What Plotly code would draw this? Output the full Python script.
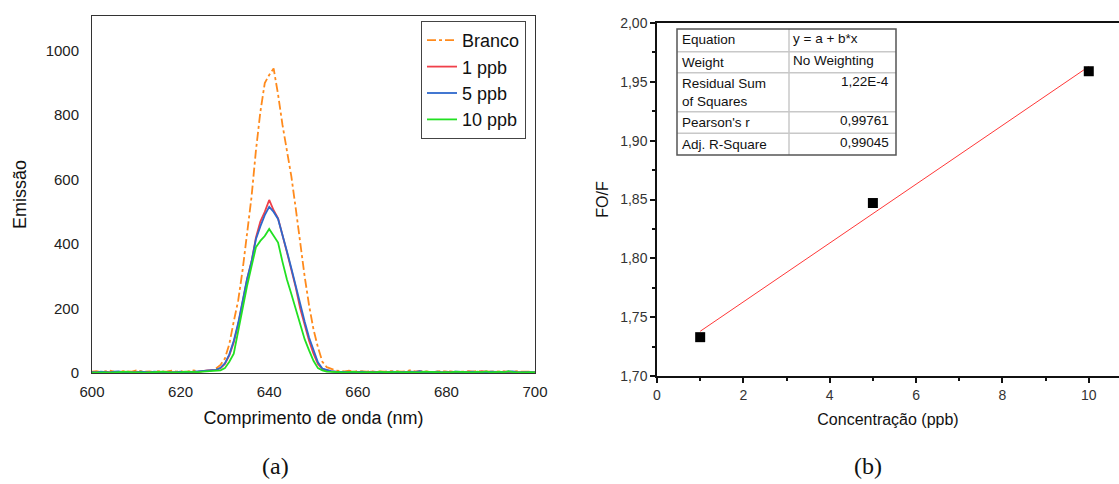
import plotly.graph_objects as go
import numpy as np

# ---------------- data: panel (a) ----------------
wavelength = list(range(600, 701))
branco = [4, 6, 3, 5, 7, 4, 3, 6, 5, 4, 8, 6, 4, 5, 3, 6, 4, 5, 7, 4,
          6, 3, 5, 8, 4, 6, 7, 8, 14, 25, 45, 90, 160, 225, 320, 430, 545, 690, 810, 900,
          925, 945, 865, 770, 690, 610, 510, 400, 300, 210, 135, 80, 35, 18, 12, 8, 6, 5, 7, 4,
          6, 5, 4, 6, 3, 5, 4, 6, 5, 3, 4, 6, 9, 4, 5, 6, 4, 3, 5, 6,
          4, 5, 3, 4, 6, 5, 4, 7, 3, 5, 4, 6, 4, 5, 3, 4, 6, 4, 5, 4, 3]
ppb1 = [2, 3, 1, 4, 2, 3, 2, 1, 3, 2, 4, 3, 2, 1, 3, 2, 4, 2, 3, 2,
        1, 3, 4, 2, 5, 6, 8, 8, 10, 15, 28, 55, 95, 150, 225, 290, 345, 420, 470, 500,
        537, 505, 480, 430, 375, 320, 265, 200, 150, 100, 60, 28, 12, 8, 5, 4, 3, 2, 4, 3,
        2, 3, 2, 4, 3, 2, 3, 2, 3, 4, 2, 3, 2, 3, 5, 2, 3, 2, 3, 2,
        4, 3, 2, 3, 2, 5, 3, 2, 6, 3, 2, 3, 2, 4, 3, 2, 3, 2, 3, 2, 2]
ppb5 = [3, 2, 4, 3, 2, 4, 5, 3, 2, 3, 2, 4, 3, 2, 4, 3, 2, 3, 2, 3,
        4, 2, 3, 4, 6, 8, 9, 8, 10, 16, 30, 58, 100, 155, 228, 292, 345, 415, 455, 490,
        516, 500, 478, 432, 378, 325, 270, 210, 160, 110, 68, 33, 14, 9, 6, 4, 3, 4, 3, 2,
        3, 4, 2, 3, 4, 3, 2, 3, 4, 2, 3, 2, 4, 3, 6, 3, 2, 3, 4, 2,
        3, 2, 4, 3, 2, 3, 4, 2, 3, 2, 4, 3, 2, 3, 4, 5, 2, 3, 2, 3, 2]
ppb10 = [1, 2, 3, 2, 1, 2, 3, 2, 4, 2, 3, 2, 1, 2, 3, 2, 4, 3, 2, 3,
         2, 4, 3, 2, 3, 4, 5, 4, 6, 8, 15, 35, 60, 130, 205, 270, 330, 390, 410, 425,
         447, 425, 405, 345, 290, 245, 200, 150, 105, 70, 38, 15, 8, 4, 3, 2, 3, 2, 3, 4,
         2, 3, 2, 3, 2, 4, 3, 2, 3, 4, 2, 3, 2, 3, 2, 4, 3, 2, 3, 2,
         3, 2, 4, 3, 2, 3, 2, 4, 3, 5, 2, 3, 4, 2, 6, 3, 2, 3, 2, 3, 2]

series_names = ["Branco", "1 ppb", "5 ppb", "10 ppb"]
series_colors = ["#FF8A1C", "#F0404A", "#2E68CC", "#22E022"]
series_dash = ["dashdot", "solid", "solid", "solid"]

xa_ticks = [600, 620, 640, 660, 680, 700]
ya_ticks = [0, 200, 400, 600, 800, 1000]

# ---------------- data: panel (b) ----------------
conc = [1, 5, 10]
fof = [1.733, 1.847, 1.959]
xb_ticks = [0, 2, 4, 6, 8, 10]
xb_labels = ["0", "2", "4", "6", "8", "10"]
yb_ticks = [1.70, 1.75, 1.80, 1.85, 1.90, 1.95, 2.00]
yb_labels = ["1,70", "1,75", "1,80", "1,85", "1,90", "1,95", "2,00"]

table_rows = [
    ("Equation", "y = a + b*x", "left"),
    ("Weight", "No Weighting", "left"),
    ("Residual Sum<br>of Squares", "1,22E-4", "right"),
    ("Pearson's r", "0,99761", "right"),
    ("Adj. R-Square", "0,99045", "right"),
]

W, H = 1119, 484
def px(x):
    return x / W
def py(y):
    return 1 - y / H

fig = go.Figure()

for name, vals, col, dash in zip(series_names, [branco, ppb1, ppb5, ppb10], series_colors, series_dash):
    fig.add_trace(go.Scatter(
        x=wavelength, y=vals, mode="lines", name=name,
        line=dict(color=col, width=1.8, dash=dash),
        xaxis="x", yaxis="y", showlegend=True))

# linear fit
b, a = np.polyfit(conc, fof, 1)
fit_x = [conc[0], conc[-1]]
fit_y = [a + b * v for v in fit_x]
fig.add_trace(go.Scatter(x=fit_x, y=fit_y, mode="lines", line=dict(color="#FF3838", width=1),
                         xaxis="x2", yaxis="y2", showlegend=False))
fig.add_trace(go.Scatter(x=conc, y=fof, mode="markers",
                         marker=dict(symbol="square", size=10, color="black"),
                         xaxis="x2", yaxis="y2", showlegend=False))

font_main = "Liberation Sans, Arial, sans-serif"

fig.update_layout(
    width=W, height=H, margin=dict(l=0, r=0, t=0, b=0),
    paper_bgcolor="white", plot_bgcolor="white",
    font=dict(family=font_main, color="#222222"),
    xaxis=dict(domain=[px(92), px(535)], range=[600, 700], tickvals=xa_ticks, automargin=False,
               showgrid=False, zeroline=False, showline=True, mirror=True,
               linecolor="#333333", linewidth=1, ticks="", ticklabelstandoff=5,
               tickfont=dict(size=15, color="#222222"),
               title=dict(text="Comprimento de onda (nm)", font=dict(size=18, color="#111111"), standoff=12)),
    yaxis=dict(domain=[py(373), py(16)], range=[0, 1108], tickvals=ya_ticks, automargin=False,
               showgrid=False, zeroline=False, showline=True, mirror=True,
               linecolor="#333333", linewidth=1, ticks="", ticklabelstandoff=9,
               tickfont=dict(size=15, color="#222222"),
               title=dict(text="Emissão", font=dict(size=18, color="#111111"), standoff=14)),
    xaxis2=dict(domain=[px(657), 1.0], range=[0, 10.7], anchor="y2", automargin=False,
                tickmode="array", tickvals=xb_ticks, ticktext=xb_labels,
                showgrid=False, zeroline=False, showline=True, mirror=True,
                linecolor="#111111", linewidth=1.5, ticks="outside", ticklen=5, tickwidth=1.5,
                tickcolor="#111111",
                minor=dict(tickvals=[1, 3, 5, 7, 9], ticklen=3, tickwidth=1.5, tickcolor="#111111", ticks="outside"),
                tickfont=dict(size=14, color="#333333"),
                title=dict(text="Concentração (ppb)", font=dict(size=16, color="#111111"), standoff=12)),
    yaxis2=dict(domain=[py(376), py(23)], range=[1.70, 2.00], anchor="x2", automargin=False,
                tickmode="array", tickvals=yb_ticks, ticktext=yb_labels,
                showgrid=False, zeroline=False, showline=True, mirror=False,
                linecolor="#111111", linewidth=1.5, ticks="outside", ticklen=5, tickwidth=1.5,
                tickcolor="#111111",
                minor=dict(tickvals=[1.725, 1.775, 1.825, 1.875, 1.925, 1.975], ticklen=3, tickwidth=1.5,
                           tickcolor="#111111", ticks="outside"),
                tickfont=dict(size=14, color="#333333"),
                title=dict(text="FO/F", font=dict(size=16, color="#111111"), standoff=8)),
    legend=dict(x=px(526), xanchor="right", y=py(21), yanchor="top",
                bgcolor="white", bordercolor="#444444", borderwidth=1,
                font=dict(size=18, color="#111111"), tracegroupgap=0,
                itemwidth=30),
)

# table in panel (b)
row_lines = [29, 51.7, 72.7, 111.7, 133.3, 155]
tx0, tx1, tmid = 677, 896, 789
shapes = []
for yy in row_lines[1:-1]:
    shapes.append(dict(type="line", xref="paper", yref="paper", x0=px(tx0), x1=px(tx1),
                       y0=py(yy), y1=py(yy), line=dict(color="#C8C8C8", width=1.5)))
shapes.append(dict(type="line", xref="paper", yref="paper", x0=px(tmid), x1=px(tmid),
                   y0=py(row_lines[0]), y1=py(row_lines[-1]), line=dict(color="#C8C8C8", width=1.5)))
shapes.append(dict(type="rect", xref="paper", yref="paper", x0=px(tx0), x1=px(tx1),
                   y0=py(row_lines[-1]), y1=py(row_lines[0]), line=dict(color="#555555", width=1.5)))
fig.update_layout(shapes=shapes)

anns = []
for i, (lab, val, al) in enumerate(table_rows):
    top = row_lines[i]
    anns.append(dict(text=lab, xref="paper", yref="paper", x=px(tx0 + 3), y=py(top + 1.5),
                     xanchor="left", yanchor="top", showarrow=False, align="left",
                     font=dict(size=13.5, color="#111111")))
    if al == "left":
        anns.append(dict(text=val, xref="paper", yref="paper", x=px(tmid + 2), y=py(top - 0.5),
                         xanchor="left", yanchor="top", showarrow=False,
                         font=dict(size=13.5, color="#111111")))
    else:
        anns.append(dict(text=val, xref="paper", yref="paper", x=px(tx1 - 5), y=py(top - 0.5),
                         xanchor="right", yanchor="top", showarrow=False,
                         font=dict(size=13.5, color="#111111")))

anns.append(dict(text="(a)", xref="paper", yref="paper", x=px(275), y=py(466), xanchor="center",
                 yanchor="middle", showarrow=False,
                 font=dict(size=24, family="Liberation Serif, Times New Roman, serif", color="#111111")))
anns.append(dict(text="(b)", xref="paper", yref="paper", x=px(868), y=py(466), xanchor="center",
                 yanchor="middle", showarrow=False,
                 font=dict(size=24, family="Liberation Serif, Times New Roman, serif", color="#111111")))
fig.update_layout(annotations=anns)

fig.write_html("out.html", config={"displayModeBar": False},
               post_script="document.body.style.margin='0px';document.body.style.overflow='hidden';")
